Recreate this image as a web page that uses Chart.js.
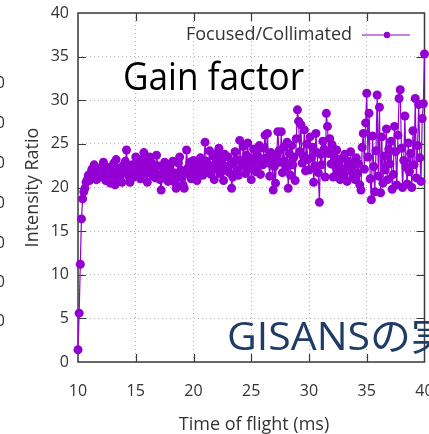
<!DOCTYPE html>
<html lang="ja">
<head>
<meta charset="UTF-8">
<title>Gain factor</title>
<script src="https://cdn.jsdelivr.net/npm/chart.js@4.4.0/dist/chart.umd.min.js"></script>
<style>
  * { margin: 0; padding: 0; box-sizing: border-box; }
  html, body { background: #fff; width: 429px; height: 434px; overflow: hidden; }
  canvas { display: block; }
</style>
</head>
<body>
<canvas id="gain" width="429" height="434"></canvas>
<script>
// time of flight (ms), one sample every 0.1 ms
const tof = [
  10.0,10.1,10.2,10.3,10.4,10.5,10.6,10.7,10.8,10.9,
  11.0,11.1,11.2,11.3,11.4,11.5,11.6,11.7,11.8,11.9,
  12.0,12.1,12.2,12.3,12.4,12.5,12.6,12.7,12.8,12.9,
  13.0,13.1,13.2,13.3,13.4,13.5,13.6,13.7,13.8,13.9,
  14.0,14.1,14.2,14.3,14.4,14.5,14.6,14.7,14.8,14.9,
  15.0,15.1,15.2,15.3,15.4,15.5,15.6,15.7,15.8,15.9,
  16.0,16.1,16.2,16.3,16.4,16.5,16.6,16.7,16.8,16.9,
  17.0,17.1,17.2,17.3,17.4,17.5,17.6,17.7,17.8,17.9,
  18.0,18.1,18.2,18.3,18.4,18.5,18.6,18.7,18.8,18.9,
  19.0,19.1,19.2,19.3,19.4,19.5,19.6,19.7,19.8,19.9,
  20.0,20.1,20.2,20.3,20.4,20.5,20.6,20.7,20.8,20.9,
  21.0,21.1,21.2,21.3,21.4,21.5,21.6,21.7,21.8,21.9,
  22.0,22.1,22.2,22.3,22.4,22.5,22.6,22.7,22.8,22.9,
  23.0,23.1,23.2,23.3,23.4,23.5,23.6,23.7,23.8,23.9,
  24.0,24.1,24.2,24.3,24.4,24.5,24.6,24.7,24.8,24.9,
  25.0,25.1,25.2,25.3,25.4,25.5,25.6,25.7,25.8,25.9,
  26.0,26.1,26.2,26.3,26.4,26.5,26.6,26.7,26.8,26.9,
  27.0,27.1,27.2,27.3,27.4,27.5,27.6,27.7,27.8,27.9,
  28.0,28.1,28.2,28.3,28.4,28.5,28.6,28.7,28.8,28.9,
  29.0,29.1,29.2,29.3,29.4,29.5,29.6,29.7,29.8,29.9,
  30.0,30.1,30.2,30.3,30.4,30.5,30.6,30.7,30.8,30.9,
  31.0,31.1,31.2,31.3,31.4,31.5,31.6,31.7,31.8,31.9,
  32.0,32.1,32.2,32.3,32.4,32.5,32.6,32.7,32.8,32.9,
  33.0,33.1,33.2,33.3,33.4,33.5,33.6,33.7,33.8,33.9,
  34.0,34.1,34.2,34.3,34.4,34.5,34.6,34.7,34.8,34.9,
  35.0,35.1,35.2,35.3,35.4,35.5,35.6,35.7,35.8,35.9,
  36.0,36.1,36.2,36.3,36.4,36.5,36.6,36.7,36.8,36.9,
  37.0,37.1,37.2,37.3,37.4,37.5,37.6,37.7,37.8,37.9,
  38.0,38.1,38.2,38.3,38.4,38.5,38.6,38.7,38.8,38.9,
  39.0,39.1,39.2,39.3,39.4,39.5,39.6,39.7,39.8,39.9,
  40.0
];

// Focused/Collimated intensity ratio
const ratio = [
  1.4, 5.6,11.2,16.4,18.7,19.5,19.9,20.6,20.9,21.4,
  20.8,21.6,22.1,21.3,22.6,21.0,20.9,21.7,22.0,21.5,
  21.2,22.4,22.9,21.8,20.8,21.6,22.3,21.1,20.5,21.9,
  21.2,22.8,20.3,23.2,21.7,21.0,22.2,21.4,20.6,22.5,
  21.9,23.0,24.3,22.1,21.3,20.6,21.8,22.6,21.2,21.8,
  23.5,22.4,21.5,22.7,21.0,22.2,23.2,24.0,22.3,21.6,
  20.6,22.9,23.5,21.9,22.8,21.3,22.0,21.1,23.7,22.5,
  21.4,20.9,19.7,22.4,21.8,22.9,21.2,22.1,20.7,21.9,
  22.6,21.3,23.0,21.7,20.6,19.9,21.6,22.8,23.5,22.0,
  21.1,20.3,19.9,21.8,24.3,22.2,21.5,22.9,21.0,22.4,
  23.1,21.6,22.5,20.8,22.7,21.9,23.4,22.1,21.4,22.9,
  25.2,23.0,21.8,22.6,24.2,21.5,22.3,23.6,20.9,22.8,
  23.9,22.1,24.5,21.6,23.3,22.7,20.8,23.8,22.4,21.9,
  23.5,21.7,22.6,19.9,21.2,22.9,24.1,23.2,22.0,21.4,
  25.4,23.1,22.5,24.7,22.8,21.6,23.7,25.1,22.2,23.4,
  20.9,22.7,24.4,23.0,21.8,23.9,22.4,24.8,21.5,23.3,
  22.6,24.5,26.0,23.4,26.2,22.8,21.3,24.0,23.1,19.7,
  22.4,20.5,23.6,26.4,24.2,22.9,26.4,21.7,24.6,23.0,
  22.3,25.2,19.9,23.9,21.4,24.8,22.6,23.5,20.8,25.6,
  28.9,27.6,24.1,27.2,22.8,23.6,26.6,21.9,25.0,23.2,
  22.0,25.8,23.4,24.6,20.6,22.5,26.2,24.0,21.7,18.3,
  23.8,22.6,25.3,24.4,21.2,28.5,27.0,23.9,25.6,22.7,
  24.9,21.2,23.6,22.4,24.3,21.8,22.9,20.9,23.3,22.1,
  21.5,23.8,22.2,20.7,23.0,21.9,24.1,22.5,21.3,22.8,
  20.9,23.4,21.6,22.7,20.3,19.7,24.6,26.2,22.1,27.4,
  30.8,23.5,28.5,21.0,18.6,25.9,22.4,19.5,24.2,30.6,
  21.3,29.2,19.4,25.8,20.5,23.6,22.0,26.7,20.9,24.4,
  22.7,25.3,19.8,21.5,27.0,24.1,20.3,26.0,30.2,31.2,
  24.5,20.0,23.1,28.2,22.3,20.4,25.1,21.8,23.9,20.0,
  26.5,22.6,30.2,21.1,24.8,29.5,23.4,20.7,27.9,29.6,
  35.3
];

const xTicks = [10, 15, 20, 25, 30, 35, 40];
const yTicks = [0, 5, 10, 15, 20, 25, 30, 35, 40];
const seriesName = 'Focused/Collimated';

const PURPLE = '#9400d3';
const INK = '#333333';
const FONT = "'Open Sans', 'DejaVu Sans', sans-serif";

// gnuplot-style closed frame with inward ticks, drawn under the data
const frame = {
  id: 'frame',
  beforeDatasetsDraw(chart) {
    const { ctx, chartArea: a, scales: { x, y } } = chart;
    ctx.save();
    ctx.strokeStyle = '#3a3a3a';
    ctx.lineWidth = 1.5;
    ctx.strokeRect(a.left, a.top, a.right - a.left, a.bottom - a.top);
    ctx.lineWidth = 1.2;
    ctx.beginPath();
    xTicks.slice(1, -1).forEach(v => {
      const px = Math.round(x.getPixelForValue(v)) + 0.5;
      ctx.moveTo(px, a.bottom); ctx.lineTo(px, a.bottom - 8);
      ctx.moveTo(px, a.top); ctx.lineTo(px, a.top + 8);
    });
    yTicks.slice(1, -1).forEach(v => {
      const py = Math.round(y.getPixelForValue(v)) + 0.5;
      ctx.moveTo(a.left, py); ctx.lineTo(a.left + 8, py);
      ctx.moveTo(a.right, py); ctx.lineTo(a.right - 8, py);
    });
    ctx.stroke();
    ctx.restore();
  }
};

// squeeze text horizontally so it spans the given width
function fitText(ctx, text, x, baseline, width) {
  const w = ctx.measureText(text).width;
  ctx.save();
  ctx.translate(x, baseline);
  ctx.scale(width / w, 1);
  ctx.fillText(text, 0, 0);
  ctx.restore();
}

// axis titles, key and the slide captions over the plot
const annotations = {
  id: 'annotations',
  afterDraw(chart) {
    const { ctx, chartArea: a } = chart;
    ctx.save();
    ctx.fillStyle = INK;
    ctx.font = `18px ${FONT}`;

    // key
    ctx.textAlign = 'right';
    ctx.textBaseline = 'middle';
    ctx.fillText(seriesName, 352, 35);
    ctx.strokeStyle = PURPLE;
    ctx.lineWidth = 1.2;
    ctx.beginPath();
    ctx.moveTo(362, 35); ctx.lineTo(410, 35);
    ctx.stroke();
    ctx.fillStyle = PURPLE;
    ctx.beginPath();
    ctx.arc(387, 35, 3.2, 0, Math.PI * 2);
    ctx.fill();

    // axis titles
    ctx.fillStyle = INK;
    ctx.textAlign = 'center';
    ctx.fillText('Time of flight (ms)', 254, 425);
    ctx.save();
    ctx.translate(33, (a.top + a.bottom) / 2);
    ctx.rotate(-Math.PI / 2);
    ctx.fillText('Intensity Ratio', 0, 0);
    ctx.restore();

    // tick labels of the neighbouring panel, cut by the left edge
    ctx.font = `16px ${FONT}`;
    ctx.textAlign = 'right';
    [83, 123, 163, 203, 243, 282, 321].forEach(py => ctx.fillText('0', 5, py));

    // captions
    ctx.textAlign = 'left';
    ctx.textBaseline = 'alphabetic';
    ctx.fillStyle = '#000';
    ctx.font = `39px ${FONT}`;
    fitText(ctx, 'Gain factor', 123, 90, 181);
    ctx.fillStyle = '#1f3b66';
    ctx.font = `39px ${FONT}, 'Noto Sans CJK JP'`;
    const head = 'GISANSの';
    const k = 184 / ctx.measureText(head).width;
    ctx.save();
    ctx.translate(227, 350);
    ctx.scale(k, 1);
    ctx.fillText(head + '実', 0, 0);
    ctx.restore();
    ctx.restore();
  }
};

new Chart(document.getElementById('gain'), {
  type: 'line',
  data: {
    datasets: [{
      label: seriesName,
      data: tof.map((t, i) => ({ x: t, y: ratio[i] })),
      borderColor: PURPLE,
      backgroundColor: PURPLE,
      borderWidth: 1.2,
      pointRadius: 4.5,
      pointBorderWidth: 0,
      pointBackgroundColor: PURPLE,
      tension: 0,
      clip: false
    }]
  },
  options: {
    responsive: false,
    animation: false,
    events: [],
    layout: { padding: { top: 13, right: 2, left: 0, bottom: 0 } },
    plugins: { legend: { display: false }, tooltip: { enabled: false } },
    scales: {
      x: {
        type: 'linear',
        min: 10, max: 40,
        afterBuildTicks: s => { s.ticks = xTicks.map(v => ({ value: v })); },
        // the "40" label is allowed to run off the right edge
        afterFit: s => { s.height = 72; s.paddingLeft = 0; s.paddingRight = 0; },
        ticks: { color: INK, font: { family: FONT, size: 16 }, padding: 20, maxRotation: 0 },
        grid: { color: '#b4b4b4', lineWidth: 1, drawTicks: false },
        border: { display: false, dash: [1, 3] }
      },
      y: {
        min: 0, max: 40,
        afterBuildTicks: s => { s.ticks = yTicks.map(v => ({ value: v })); },
        afterFit: s => { s.width = 78; s.paddingTop = 0; s.paddingBottom = 0; },
        ticks: { color: INK, font: { family: FONT, size: 16 }, padding: 9 },
        grid: { color: '#b4b4b4', lineWidth: 1, drawTicks: false },
        border: { display: false, dash: [1, 3] }
      }
    }
  },
  plugins: [frame, annotations]
});
</script>
</body>
</html>
